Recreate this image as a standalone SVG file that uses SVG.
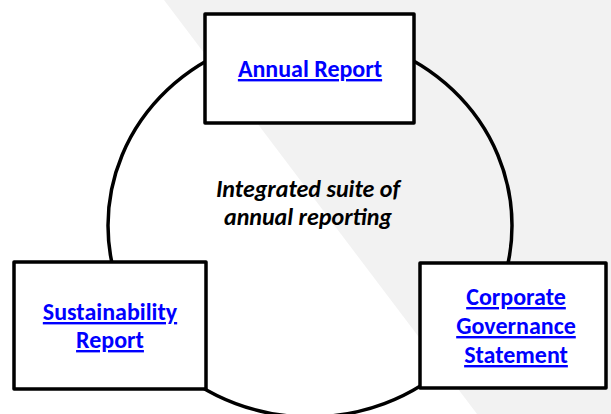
<svg xmlns="http://www.w3.org/2000/svg" width="611" height="414" viewBox="0 0 611 414">
<style>
.box{fill:#fff;stroke:#000;stroke-width:3.5;stroke-linejoin:round}
.lnk{font-family:Calibri,Carlito,"Liberation Sans",sans-serif;font-weight:bold;font-size:24px;fill:#0000ff;text-decoration:underline;text-anchor:middle}
.mid{font-family:Calibri,Carlito,"Liberation Sans",sans-serif;font-weight:bold;font-style:italic;font-size:24px;fill:#000;text-anchor:middle}
</style>
<rect x="0" y="0" width="611" height="414" fill="#fff"/>
<polygon points="164,0 611,0 611,414 477,414" fill="#f2f2f2"/>
<g id="connectors">
<ellipse cx="310" cy="225.5" rx="202" ry="191.5" fill="none" stroke="#000" stroke-width="3.5"/>
</g>
<g id="annual-report">
<rect class="box" x="205" y="14" width="209" height="109"/>
<text class="lnk" x="310" y="77">Annual Report</text>
</g>
<g id="sustainability-report">
<rect class="box" x="14" y="262" width="192" height="127"/>
<text class="lnk" x="110" y="320">Sustainability</text>
<text class="lnk" x="110" y="348">Report</text>
</g>
<g id="corporate-governance">
<rect class="box" x="420" y="263" width="186" height="125"/>
<text class="lnk" x="516" y="305">Corporate</text>
<text class="lnk" x="516" y="334">Governance</text>
<text class="lnk" x="516" y="363">Statement</text>
</g>
<g id="center-label">
<text class="mid" x="308" y="197">Integrated suite of</text>
<text class="mid" x="308" y="225">annual reporting</text>
</g>
</svg>
